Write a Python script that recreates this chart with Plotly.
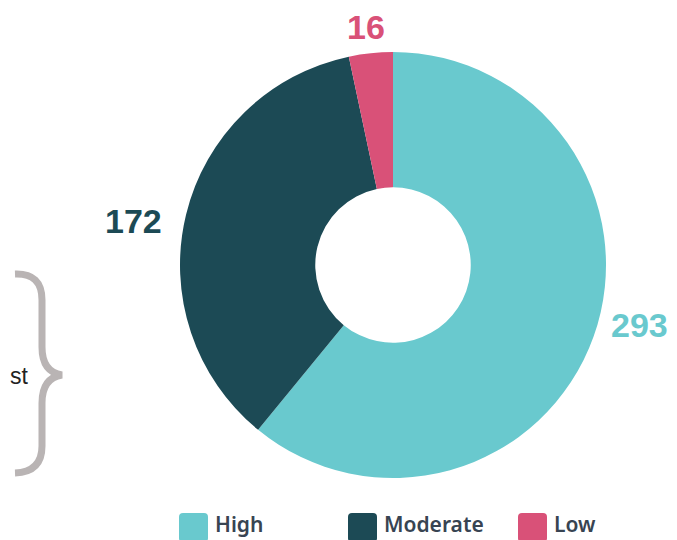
import plotly.graph_objects as go

# ---- data ----
categories = ["High", "Moderate", "Low"]
values = [293, 172, 16]
colors = ["#69C9CE", "#1C4A55", "#D95178"]
label_text_colors = ["#69C9CE", "#1C4A55", "#D95178"]
side_text = "st"

# the page body has an 8px margin; map window pixels to paper coords
OFF = 8
W, H = 677 - OFF, 540 - OFF


def px(x):
    return (x - OFF) / W


def py(y):
    return 1 - (y - OFF) / H


fig = go.Figure()

# donut centre (393,265), outer radius 213 (window pixels)
cx, cy, r = 393, 265, 213
fig.add_trace(go.Pie(
    labels=categories,
    values=values,
    marker=dict(colors=colors, line=dict(width=0)),
    hole=0.365,
    sort=False,
    direction="clockwise",
    rotation=0,
    textinfo="none",
    hoverinfo="label+value",
    showlegend=False,
    domain=dict(x=[px(cx - r), px(cx + r)], y=[py(cy + r), py(cy - r)]),
))

# value labels outside the ring
label_pos = [(639, 325), (133, 221), (366, 27)]
annotations = []
for v, c, (lx, ly) in zip(values, label_text_colors, label_pos):
    annotations.append(dict(
        x=px(lx), y=py(ly), xref="paper", yref="paper",
        text=str(v), showarrow=False, xanchor="center", yanchor="middle",
        font=dict(family="Liberation Sans", size=34, color=c, weight="bold"),
    ))

# custom legend
legend_x = [179, 348, 518]
shapes = []
sq = 29
top = 513
rad = 4
for lx, c, name in zip(legend_x, colors, categories):
    x0, x1, y0, y1 = lx, lx + sq, top, top + sq
    path = (
        f"M {px(x0 + rad)} {py(y0)} L {px(x1 - rad)} {py(y0)} "
        f"Q {px(x1)} {py(y0)} {px(x1)} {py(y0 + rad)} "
        f"L {px(x1)} {py(y1 - rad)} Q {px(x1)} {py(y1)} {px(x1 - rad)} {py(y1)} "
        f"L {px(x0 + rad)} {py(y1)} Q {px(x0)} {py(y1)} {px(x0)} {py(y1 - rad)} "
        f"L {px(x0)} {py(y0 + rad)} Q {px(x0)} {py(y0)} {px(x0 + rad)} {py(y0)} Z"
    )
    shapes.append(dict(type="path", path=path, xref="paper", yref="paper",
                       fillcolor=c, line=dict(width=0), layer="above"))
    annotations.append(dict(
        x=px(lx + sq + 5), y=py(524), xref="paper", yref="paper",
        text=name, showarrow=False, xanchor="left", yanchor="middle",
        font=dict(family="Noto Sans", size=21, color="#384452", weight=600),
    ))

# curly brace on the left
pts = ("M {a} {b} Q {c} {d} {c} {e} L {c} {f} Q {c} {g} {h} {i} "
       "Q {c} {j} {c} {k} L {c} {l} Q {c} {m} {a} {n}")
brace = pts.format(
    a=px(15), b=py(274), c=px(42), d=py(273), e=py(300), f=py(347),
    g=py(372), h=px(62), i=py(375), j=py(378), k=py(403), l=py(446),
    m=py(472), n=py(473),
)
shapes.append(dict(type="path", path=brace, xref="paper", yref="paper",
                   line=dict(color="#B9B4B4", width=7)))

annotations.append(dict(
    x=0, y=py(376), xref="paper", yref="paper", text=side_text,
    showarrow=False, xanchor="left", yanchor="middle",
    font=dict(family="Liberation Sans", size=23, color="#222222"),
))

fig.update_layout(
    width=W, height=H,
    margin=dict(l=0, r=0, t=0, b=0),
    paper_bgcolor="white", plot_bgcolor="white",
    annotations=annotations, shapes=shapes,
    showlegend=False,
)

fig.write_html("out.html")
